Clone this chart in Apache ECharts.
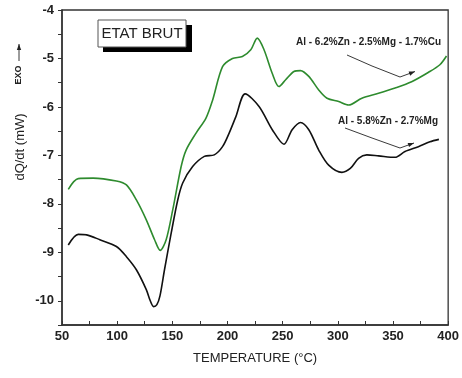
<!DOCTYPE html>
<html><head><meta charset="utf-8">
<script src="https://cdn.jsdelivr.net/npm/echarts@6/dist/echarts.min.js"></script>
<style>html,body{margin:0;padding:0;background:#fff}#c{width:462px;height:378px}</style>
</head><body><div id="c"></div>
<script>
const xTicks = [50, 100, 150, 200, 250, 300, 350, 400];
const yTicks = [-10, -9, -8, -7, -6, -5, -4];

const blackT = [55.7, 64.7, 72.3, 84.3, 99.3, 108.4, 117.4, 126.4, 130, 133, 136, 138.8, 142.9, 149, 154.9, 159.4, 168.4, 179, 188, 195.5, 201.5, 207.6, 216, 228.6, 240.6, 251.2, 258.6, 266.2, 273.7, 282.7, 291.7, 303.7, 311.3, 318.8, 326.3, 336.9, 351.9, 360.9, 373, 383.5, 391.6];
const blackQ = [-8.85, -8.63, -8.64, -8.74, -8.88, -9.09, -9.36, -9.77, -10.0, -10.12, -10.08, -9.9, -9.36, -8.6, -7.92, -7.57, -7.23, -7.02, -6.99, -6.82, -6.54, -6.2, -5.73, -5.99, -6.47, -6.77, -6.47, -6.32, -6.47, -6.89, -7.2, -7.35, -7.27, -7.06, -6.99, -7.01, -7.04, -6.92, -6.82, -6.72, -6.67];

const greenT = [55.7, 64.7, 78.2, 99.3, 108.4, 117.4, 126.4, 133.9, 139, 144.4, 150.4, 158, 162.5, 171.5, 180.5, 186.5, 195.5, 204.5, 213.5, 221.1, 227, 233.1, 240.6, 246.6, 252.7, 260.2, 266.2, 273.7, 282.7, 290.2, 300.8, 309.8, 321.8, 336.9, 351.9, 366.9, 381.9, 392.5, 398.5];
const greenQ = [-7.7, -7.48, -7.47, -7.53, -7.61, -7.92, -8.33, -8.74, -8.96, -8.74, -8.12, -7.23, -6.89, -6.54, -6.23, -5.86, -5.17, -5.0, -4.96, -4.82, -4.58, -4.82, -5.31, -5.58, -5.44, -5.27, -5.25, -5.37, -5.65, -5.82, -5.89, -5.96, -5.82, -5.72, -5.61, -5.48, -5.29, -5.13, -4.95];

const labelGreen = 'Al - 6.2%Zn - 2.5%Mg - 1.7%Cu';
const labelBlack = 'Al - 5.8%Zn - 2.7%Mg';
const boxLabel = 'ETAT BRUT';
const xName = 'TEMPERATURE (°C)';
const yName = 'dQ/dt (mW)';

const zip = (a, b) => a.map((v, i) => [v, b[i]]);

function arrow(pts) {
  const n = pts.length;
  const [x1, y1] = pts[n - 2], [x2, y2] = pts[n - 1];
  const a = Math.atan2(y2 - y1, x2 - x1), L = 6, W = 2.2;
  const bx = x2 - L * Math.cos(a), by = y2 - L * Math.sin(a);
  return [
    { type: 'polyline', shape: { points: pts }, style: { stroke: '#222', lineWidth: 0.9, fill: null } },
    { type: 'polygon', shape: { points: [[x2, y2], [bx - W * Math.sin(a), by + W * Math.cos(a)], [bx + W * Math.sin(a), by - W * Math.cos(a)]] }, style: { fill: '#222' } }
  ];
}

const chart = echarts.init(document.getElementById('c'));
const font = 'Liberation Sans, Arial, sans-serif';
chart.setOption({
  animation: false,
  grid: { left: 62, right: 12, top: 10, bottom: 53, show: true, borderColor: '#333', borderWidth: 1.3 },
  xAxis: {
    type: 'value', min: xTicks[0], max: xTicks[xTicks.length - 1], interval: 50,
    name: xName, nameLocation: 'middle', nameGap: 27,
    nameTextStyle: { fontFamily: font, fontSize: 13, color: '#222' },
    axisLine: { lineStyle: { color: '#333', width: 1.5 } },
    axisTick: { inside: true, length: 4, lineStyle: { color: '#333' } },
    minorTick: { show: true, splitNumber: 2, length: 4, lineStyle: { color: '#333' } },
    axisLabel: { fontFamily: font, fontSize: 13, fontWeight: 'bold', color: '#222', margin: 5 },
    splitLine: { show: false }
  },
  yAxis: {
    type: 'value', min: -10.5, max: yTicks[yTicks.length - 1], interval: 0.5,
    axisLine: { show: true, lineStyle: { color: '#333', width: 1.5 } },
    axisTick: { inside: false, length: 4, lineStyle: { color: '#333' } },
    axisLabel: { fontFamily: font, fontSize: 13, fontWeight: 'bold', color: '#222', margin: 8,
      formatter: v => yTicks.includes(v) ? String(v) : '' },
    splitLine: { show: false }
  },
  series: [
    { type: 'line', data: zip(greenT, greenQ), smooth: 0.3, showSymbol: false, lineStyle: { color: '#2e8b2e', width: 1.6 }, z: 3 },
    { type: 'line', data: zip(blackT, blackQ), smooth: 0.3, showSymbol: false, lineStyle: { color: '#111', width: 1.6 }, z: 3 }
  ],
  graphic: [
    { type: 'rect', shape: { x: 103, y: 25, width: 89, height: 27 }, style: { fill: '#000' } },
    { type: 'rect', shape: { x: 98, y: 20, width: 88, height: 27 }, style: { fill: '#fff', stroke: '#555', lineWidth: 1 } },
    { type: 'text', x: 142, y: 34, style: { text: boxLabel, font: '15px ' + font, fill: '#222', align: 'center', verticalAlign: 'middle' } },
    { type: 'text', x: 441, y: 42, style: { text: labelGreen, font: 'bold 10px ' + font, fill: '#222', align: 'right', verticalAlign: 'middle' } },
    { type: 'text', x: 438, y: 121, style: { text: labelBlack, font: 'bold 10px ' + font, fill: '#222', align: 'right', verticalAlign: 'middle' } },
    ...arrow([[347, 55], [372, 66], [400, 77], [415, 71.5]]),
    ...arrow([[345, 128], [372, 138], [400, 148], [414, 143]]),
    { type: 'text', x: 20, y: 147, rotation: Math.PI / 2, style: { text: yName, font: '13px ' + font, fill: '#222', align: 'center', verticalAlign: 'middle' } },
    { type: 'text', x: 19, y: 75, rotation: Math.PI / 2, style: { text: 'EXO', font: 'bold 9px ' + font, fill: '#222', align: 'center', verticalAlign: 'middle' } },
    ...arrow([[19, 61], [19, 52], [19, 44]])
  ]
});
</script></body></html>
